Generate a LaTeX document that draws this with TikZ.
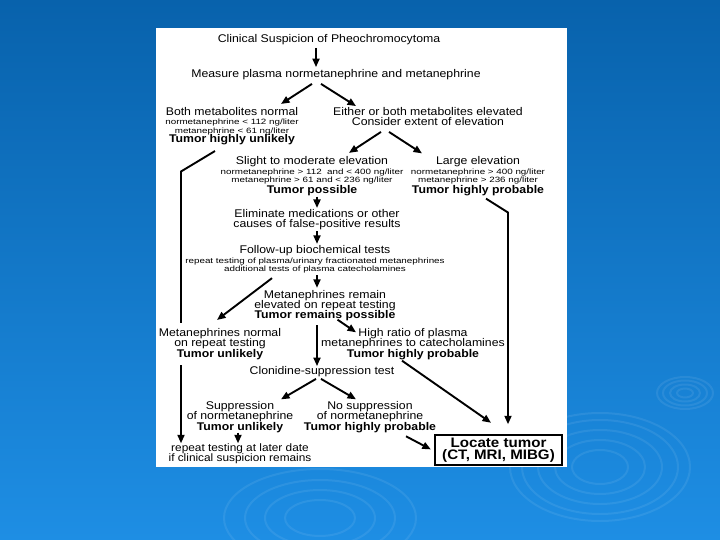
\documentclass[tikz,border=0pt]{standalone}
\usepackage{fontspec}
\setmainfont{Liberation Sans}[FakeStretch=1.1]
\newfontfamily\smallfam{Liberation Sans}[FakeStretch=1.28]
\usepackage{tikz}
\usetikzlibrary{arrows.meta,calc}
\pgfdeclarelayer{slide}
\pgfsetlayers{slide,main}
\definecolor{slidetop}{RGB}{8,98,172}
\definecolor{slidebot}{RGB}{30,142,228}
\newcommand{\tightlines}{\lineskiplimit-20pt\relax}
\newcommand{\lowtxt}{\smallfam\fontsize{7.7}{8}\selectfont}
\newcommand{\keytxt}{\rmfamily\bfseries\fontsize{11.2}{10.3}\selectfont}
\begin{document}
\begin{tikzpicture}[x=1bp,y=-1bp,
  txt/.style={align=center,inner sep=0pt,fill=white,
              font=\fontsize{11.2}{10.3}\selectfont\tightlines},
  arr/.style={-{Triangle[length=8.5bp,width=7bp]},line width=1.9bp,line join=miter},
  ring/.style={draw=white,opacity=0.08,line width=2bp},
  goal/.style={draw,line width=1.5bp,inner sep=0pt,minimum width=127bp,minimum height=30bp,
               align=center,font=\bfseries\fontsize{13.8}{12.6}\selectfont\tightlines}]
\useasboundingbox (0,0) rectangle (720,540);
\begin{pgfonlayer}{slide}
% slide backdrop and ripples
\shade[top color=slidetop,bottom color=slidebot] (0,0) rectangle (720,540);
\foreach \r/\s in {8/4.5,15/8.5,22/12.5,28/16}
  \draw[ring] (685,393) ellipse [x radius=\r bp,y radius=\s bp];
\foreach \r/\s in {28/17,45/27,62/37,78/47,90/54}
  \draw[ring] (600,467) ellipse [x radius=\r bp,y radius=\s bp];
\foreach \r/\s in {35/18,55/28,75/38,96/49}
  \draw[ring] (320,518) ellipse [x radius=\r bp,y radius=\s bp];
\fill[white] (156,28) rectangle (567,467);
\end{pgfonlayer}
% first tier
\node[txt] (clin) at (329,39.5) {Clinical Suspicion of Pheochromocytoma};
\node[txt] (meas) at (336,74.5) {Measure plasma normetanephrine and metanephrine};
\node[txt] (bnorm) at (232,126) {Both metabolites normal\\[-0.8pt]
  \lowtxt normetanephrine < 112 ng/liter\\[-1.8pt]
  \lowtxt metanephrine < 61 ng/liter\\[-1pt]
  \keytxt Tumor highly unlikely};
\node[txt] (elev) at (428,116.5) {Either or both metabolites elevated\\Consider extent of elevation};
% extent of elevation
\node[txt] (slight) at (312,176) {Slight to moderate elevation\\[-0.8pt]
  \lowtxt normetanephrine > 112\ \ and < 400 ng/liter\\[-2.3pt]
  \lowtxt metanephrine > 61 and < 236 ng/liter\\[0.7pt]
  \keytxt Tumor possible};
\node[txt] (large) at (478,176) {Large elevation\\[-0.8pt]
  \lowtxt normetanephrine > 400 ng/liter\\[-2.3pt]
  \lowtxt metanephrine > 236 ng/liter\\[0.7pt]
  \keytxt Tumor highly probable};
\node[txt] (elim) at (317,219.5) {Eliminate medications or other\\causes of false-positive results};
\node[txt] (follow) at (315,259) {Follow-up biochemical tests\\
  \lowtxt repeat testing of plasma/urinary fractionated metanephrines\\[-2.3pt]
  \lowtxt additional tests of plasma catecholamines};
\node[txt] (remain) at (325,305.5) {Metanephrines remain\\elevated on repeat testing\\
  \keytxt Tumor remains possible};
\node[txt,inner ysep=6bp] (mnorm) at (220,344) {Metanephrines normal\\on repeat testing\\
  \keytxt Tumor unlikely};
\node[txt] (ratio) at (413,344) {High ratio of plasma\\metanephrines to catecholamines\\
  \keytxt Tumor highly probable};
\node[txt] (clon) at (322,371.5) {Clonidine-suppression test};
\node[txt] (supp) at (240,417) {Suppression\\[-0.3pt]of normetanephrine\\[0.3pt]
  \keytxt Tumor unlikely};
\node[txt] (nosupp) at (370,417) {No suppression\\[-0.3pt]of normetanephrine\\[0.3pt]
  \keytxt Tumor highly probable};
\node[txt,font=\fontsize{10.8}{10}\selectfont\tightlines] (later) at (240,453.5) {repeat testing at later date\\if clinical suspicion remains};
\node[goal] (loc) at (498.5,450) {Locate tumor\\(CT, MRI, MIBG)};
\coordinate (lbend) at (181,171.5);
\coordinate (rbend) at (508,212.5);
% connectors
\draw[arr] ([shift={(-13,3)}]clin.south) -- ([shift={(-20,-2)}]meas.north);
\draw[arr] ([shift={(-24,4)}]meas.south) -- ([shift={(49,-3)}]bnorm.north);
\draw[arr] ([shift={(-15,4)}]meas.south) -- ([shift={(-72,-1)}]elev.north);
\draw[arr] ([shift={(-47,6)}]elev.south) -- ([shift={(37,-3.5)}]slight.north);
\draw[arr] ([shift={(-39,6)}]elev.south) -- ([shift={(-56,-3)}]large.north);
\draw[arr] ([shift={(5,1)}]slight.south) -- ([shift={(0,-1)}]elim.north);
\draw[arr] ([shift={(0,1)}]elim.south) -- ([shift={(2,-1)}]follow.north);
\draw[arr] ([shift={(2,2)}]follow.south) -- ([shift={(-8,-2)}]remain.north);
\draw[arr] ([shift={(-43,5)}]follow.south) -- ([shift={(-3,-2.4)}]mnorm.north);
\draw[arr] ([shift={(12.5,-1.5)}]remain.south) -- ([shift={(-57,4)}]ratio.north);
\draw[arr] ([shift={(-8,4)}]remain.south) -- ([shift={(-5,0)}]clon.north);
\draw[arr] ([shift={(-11,1)}]ratio.south) -- ([shift={(-7.5,-11.5)}]loc.north);
\draw[arr] ([shift={(-6,2)}]clon.south) -- ([shift={(41,-2)}]supp.north);
\draw[arr] ([shift={(-1,2)}]clon.south) -- ([shift={(-14,-2)}]nosupp.north);
\draw[arr] ([shift={(-2,0)}]supp.south) -- ([shift={(-2,0)}]later.north);
\draw[arr] ([shift={(36,3.6)}]nosupp.south) -- ([shift={(-3.4,-0.6)}]loc.west);
\draw[arr] ([shift={(8,3)}]large.south) -- (rbend) -- ($(rbend |- loc.north)+(0,-10)$);
\begin{pgfonlayer}{slide}
\draw[arr] ([shift={(-17,6)}]bnorm.south) -- (lbend) -- (lbend |- later.north);
\end{pgfonlayer}
\end{tikzpicture}
\end{document}
